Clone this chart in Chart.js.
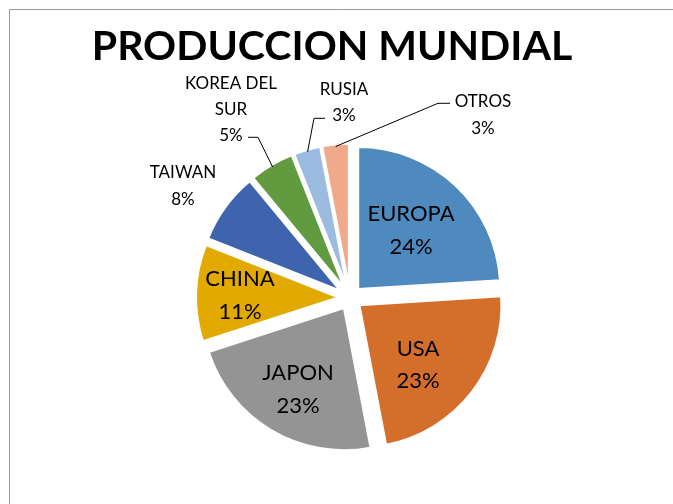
<!DOCTYPE html>
<html><head><meta charset="utf-8">
<script src="https://cdn.jsdelivr.net/npm/chart.js@4.4.1/dist/chart.umd.min.js"></script>
<style>html,body{margin:0;padding:0;background:#fff;overflow:hidden}#wrap{width:673px;height:504px;position:relative}</style>
</head><body><div id="wrap"><canvas id="c" width="673" height="504"></canvas></div>
<script>
// ---- data ----
const categories = ['EUROPA', 'USA', 'JAPON', 'CHINA', 'TAIWAN', 'KOREA DEL SUR', 'RUSIA', 'OTROS'];
const shares = [24, 23, 23, 11, 8, 5, 3, 3];
const sliceColors = ['#4F8ABF', '#D46F2B', '#949494', '#E2AA00', '#3E64AD', '#629B3F', '#9BBBE1', '#F0A98A'];
const titleText = 'PRODUCCION MUNDIAL';

// ---- layout (not data) ----
const W = 673, H = 504;
const pieCX = 350, pieCY = 301;
const shift = 12;     // explode distance of every slice (px)
const pieR = 142;
const titleCX = 332, titleCY = 47, titleSize = 41, titleLH = 1.2;
const fontFam = 'Lato, "Open Sans", sans-serif';
// label placement relative to pie centre
const labelSpec = [
  {dx: 61, dy: -67, size: 22, gap: 33, lines: ['EUROPA']},
  {dx: 68, dy: 67, size: 22, gap: 32, lines: ['USA']},
  {dx: -52, dy: 92, size: 22, gap: 33, lines: ['JAPON']},
  {dx: -110, dy: -2, size: 22, gap: 33, lines: ['CHINA']},
  {dx: -167, dy: -112, size: 17, gap: 27, lines: ['TAIWAN']},
  {dx: -119, dy: -188, size: 17, gap: 26, lines: ['KOREA DEL', 'SUR'], leader: {ex: -92, ey: -161, tx: -102, ty: -161}},
  {dx: -6, dy: -195, size: 17, gap: 26, lines: ['RUSIA'], leader: {ex: -36, ey: -180, tx: -25, ty: -180}},
  {dx: 133, dy: -183, size: 17, gap: 27, lines: ['OTROS'], leader: {ex: 88, ey: -195, tx: 100, ty: -195}}
];

const total = shares.reduce((a, b) => a + b, 0);

// exploded slices: every arc is pushed out along its bisector by `shift`
const baseArcDraw = Chart.ArcElement.prototype.draw;
Chart.ArcElement.prototype.draw = function (ctx) {
  const mid = (this.startAngle + this.endAngle) / 2;
  ctx.save();
  ctx.translate(Math.cos(mid) * shift, Math.sin(mid) * shift);
  baseArcDraw.call(this, ctx);
  ctx.restore();
};

// measure title to place it
const mctx = document.createElement('canvas').getContext('2d');
mctx.font = 'bold ' + titleSize + 'px ' + fontFam;
const titleW = mctx.measureText(titleText).width;
const padL = titleCX - titleW / 2;
const padR = W - (2 * pieCX - padL);
const padT = titleCY - titleSize * titleLH / 2;
const titleBoxH = titleSize * titleLH + 20;
const areaTop = padT + titleBoxH;
const padB = H + areaTop - 2 * pieCY;

const borderPlugin = {
  id: 'frame',
  beforeDraw(chart) {
    const c = chart.ctx;
    c.save();
    c.fillStyle = '#fff';
    c.fillRect(0, 0, W, H);
    c.strokeStyle = '#9a9a9a';
    c.lineWidth = 1;
    c.beginPath();
    c.moveTo(9.5, H);
    c.lineTo(9.5, 9.5);
    c.lineTo(W, 9.5);
    c.stroke();
    c.restore();
  }
};

const labelPlugin = {
  id: 'sliceLabels',
  afterDatasetsDraw(chart) {
    const c = chart.ctx;
    const meta = chart.getDatasetMeta(0);
    c.save();
    meta.data.forEach((arc, i) => {
      const spec = labelSpec[i];
      const p = arc.getProps(['x', 'y', 'startAngle', 'endAngle', 'outerRadius'], true);
      const cx = p.x, cy = p.y;
      const pct = Math.round(shares[i] / total * 100) + '%';
      const lines = spec.lines.concat([pct]);
      c.fillStyle = '#000';
      c.font = spec.size + 'px ' + fontFam;
      c.textAlign = 'center';
      c.textBaseline = 'middle';
      const lx = cx + spec.dx, ly = cy + spec.dy;
      const y0 = ly - (lines.length - 1) * spec.gap / 2;
      lines.forEach((t, k) => c.fillText(t, lx, y0 + k * spec.gap));
      if (spec.leader) {
        const mid = (p.startAngle + p.endAngle) / 2;
        const rr = p.outerRadius + shift - 2;
        const ax = cx + Math.cos(mid) * rr, ay = cy + Math.sin(mid) * rr;
        c.strokeStyle = '#000';
        c.lineWidth = 1;
        c.beginPath();
        c.moveTo(cx + spec.leader.tx, cy + spec.leader.ty + 0.5);
        c.lineTo(cx + spec.leader.ex, cy + spec.leader.ey + 0.5);
        c.lineTo(ax, ay);
        c.stroke();
      }
    });
    c.restore();
  }
};

new Chart(document.getElementById('c'), {
  type: 'pie',
  data: {
    labels: categories,
    datasets: [{
      data: shares,
      backgroundColor: sliceColors,
      borderColor: '#ffffff',
      borderWidth: 2,
      hoverOffset: 0
    }]
  },
  options: {
    responsive: false,
    animation: false,
    devicePixelRatio: 1,
    radius: pieR,
    layout: {padding: {left: padL, right: padR, top: padT, bottom: padB}},
    plugins: {
      legend: {display: false},
      tooltip: {enabled: false},
      title: {
        display: true,
        text: titleText,
        align: 'start',
        color: '#000',
        font: {family: fontFam, weight: 'bold', size: titleSize, lineHeight: titleLH},
        padding: {top: 0, bottom: 20}
      }
    }
  },
  plugins: [borderPlugin, labelPlugin]
});
</script>
</body></html>
